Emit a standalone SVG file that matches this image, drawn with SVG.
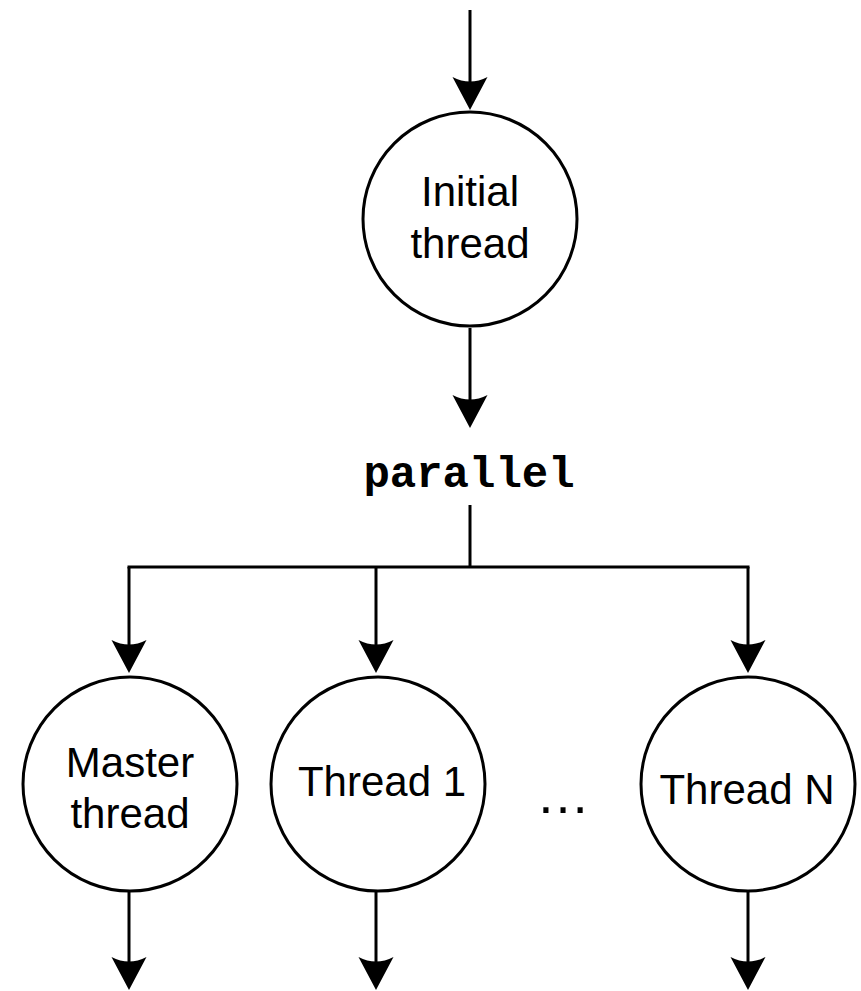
<svg xmlns="http://www.w3.org/2000/svg" width="861" height="991" viewBox="0 0 861 991">
  <defs>
    <marker id="arrow" markerUnits="userSpaceOnUse" markerWidth="34" markerHeight="36" viewBox="0 0 34 36" refX="8" refY="17.5" orient="auto">
      <path d="M0,0 L33,17.5 L0,35 Q9,17.5 0,0 Z" fill="#000"/>
    </marker>
    <style>
      .node { fill: #fff; stroke: #000; stroke-width: 3; }
      .label { font-family: "Liberation Sans", Arial, sans-serif; font-size: 42px; fill: #000; text-anchor: middle; }
      .code { font-family: "Liberation Mono", "Courier New", monospace; font-size: 44px; font-weight: bold; fill: #000; text-anchor: middle; }
      .edge { fill: none; stroke: #000; stroke-width: 3; }
      .arrowed { marker-end: url(#arrow); }
    </style>
  </defs>
  <rect width="861" height="991" fill="#fff"/>

  <g id="connectors">
    <path class="edge arrowed" d="M470,10 V85"/>
    <path class="edge arrowed" d="M470,328 V403"/>
    <path class="edge" d="M470,505 V567"/>
    <path class="edge" stroke-linecap="square" d="M129,567 H748"/>
    <path class="edge arrowed" d="M129,567 V648"/>
    <path class="edge arrowed" d="M376,567 V648"/>
    <path class="edge arrowed" d="M748,567 V648"/>
    <path class="edge arrowed" d="M129,892 V965"/>
    <path class="edge arrowed" d="M376,892 V965"/>
    <path class="edge arrowed" d="M748,892 V965"/>
  </g>

  <g id="initial-thread">
    <circle class="node" cx="470" cy="219" r="107"/>
    <text class="label" x="470" y="206">Initial</text>
    <text class="label" x="470" y="258">thread</text>
  </g>

  <g id="parallel">
    <text class="code" x="469" y="487">parallel</text>
  </g>

  <g id="master-thread">
    <circle class="node" cx="130" cy="784" r="107"/>
    <text class="label" x="130" y="777">Master</text>
    <text class="label" x="130" y="828">thread</text>
  </g>

  <g id="thread-1">
    <circle class="node" cx="378" cy="784" r="107"/>
    <text class="label" x="382" y="796">Thread 1</text>
  </g>

  <g id="ellipsis">
    <text class="label" x="563" y="813" style="font-size:54px">…</text>
  </g>

  <g id="thread-n">
    <circle class="node" cx="748" cy="784" r="107"/>
    <text class="label" x="747" y="804">Thread N</text>
  </g>
</svg>
